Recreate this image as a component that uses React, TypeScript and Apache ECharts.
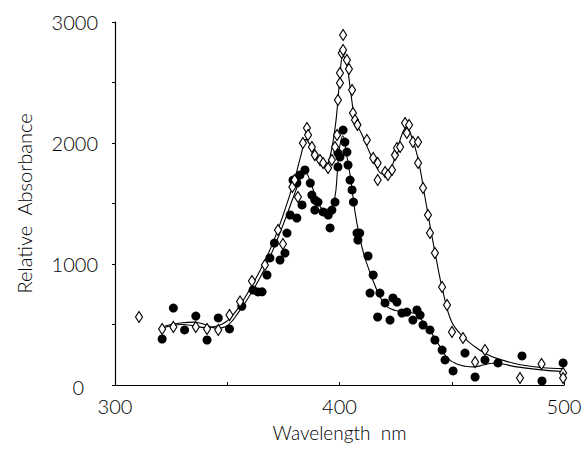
import React, { useEffect, useRef } from "react";
import * as echarts from "echarts";

const xTicks = [300, 350, 400, 450, 500];
const yTicks = [0, 500, 1000, 1500, 2000, 2500, 3000];

// open diamonds (measured points)
const diamondWl = [310.7, 321, 326, 336, 341, 346, 351, 355.7, 361, 366.8, 372.6, 374.8, 379, 380, 381.5, 383.7, 385.5, 386, 387.7, 389, 391.3, 392.7, 394.9, 396.6, 398, 398.9, 399.3, 400.2, 400.2, 401, 401.6, 401.6, 403.3, 404.2, 405.6, 406, 406.9, 408, 412.2, 415, 417, 417, 420.3, 421.6, 423.4, 424.7, 425.6, 427, 429.2, 431, 430, 432.7, 435, 435, 437.2, 439.4, 440.3, 442.5, 445.7, 447.9, 450.1, 455, 460.4, 464.8, 480.4, 490, 499.6, 499.6];
const diamondAbs = [562, 463, 480, 480, 463, 455, 578, 690, 860, 992, 1281, 1165, 1636, 1694, 1554, 2000, 2124, 2066, 1967, 1900, 1860, 1835, 1793, 1860, 1967, 2066, 2355, 2496, 2579, 2744, 2769, 2893, 2686, 2612, 2438, 2248, 2190, 2150, 2025, 1876, 1835, 1694, 1760, 1736, 1777, 1900, 1959, 1967, 2165, 2149, 2083, 2008, 2008, 1835, 1628, 1405, 1256, 1091, 810, 661, 438, 388, 190, 289, 58, 174, 99, 58];

// filled circles (measured points)
const circleWl = [321, 326, 331, 336, 341, 346, 351, 356.5, 361.5, 363.7, 365.5, 367.7, 369, 371, 373.5, 375.7, 376.6, 378, 379.3, 381, 381, 382.4, 383.3, 384.6, 387, 387.7, 389, 390.4, 389, 392.7, 395, 395.8, 396.6, 398, 399.3, 399.3, 400.2, 401.6, 402.4, 403.3, 403.8, 404.7, 405.6, 406.2, 407.8, 409, 408.2, 412.7, 415, 413.6, 418, 420.3, 423.8, 425.6, 417, 422.5, 427.8, 430, 432.7, 434.5, 435.9, 437.2, 440.3, 442.5, 445.7, 447, 450.6, 455.9, 460.4, 464.8, 470.6, 481.3, 490.2, 499.6];
const circleAbs = [380, 636, 455, 570, 372, 554, 463, 650, 785, 769, 770, 909, 1050, 1173, 1033, 1090, 1256, 1405, 1694, 1669, 1380, 1736, 1488, 1777, 1669, 1570, 1529, 1512, 1446, 1430, 1405, 1298, 1446, 1512, 1802, 1917, 1884, 2107, 2008, 1925, 1818, 1694, 1612, 1512, 1256, 1256, 1198, 1066, 909, 760, 760, 678, 719, 686, 562, 537, 595, 603, 537, 620, 578, 496, 455, 372, 289, 207, 116, 264, 66, 207, 182, 240, 33, 182];

// fitted curves drawn through each set
const diamondCurveWl = [321, 325, 330, 335, 340, 345, 350, 355, 360, 365, 370, 375, 380, 383, 385, 387, 390, 393, 395, 398, 400, 401.5, 403, 405, 407, 410, 413, 416, 419, 422, 425, 428, 430, 432, 435, 438, 440, 443, 446, 450, 455, 460, 465, 470, 480, 490, 500];
const diamondCurveAbs = [470, 490, 500, 490, 475, 485, 530, 640, 790, 960, 1160, 1410, 1700, 1910, 2030, 1980, 1870, 1800, 1830, 2120, 2500, 2720, 2680, 2420, 2190, 2070, 1940, 1820, 1745, 1760, 1900, 2080, 2130, 2060, 1870, 1560, 1350, 1050, 780, 520, 400, 320, 260, 220, 170, 145, 135];

const circleCurveWl = [321, 325, 330, 335, 340, 345, 350, 355, 360, 365, 370, 375, 380, 383, 385, 387, 390, 393, 396, 398, 399, 400, 401.5, 403, 405, 407, 409, 411, 413, 415, 418, 421, 425, 430, 434, 436, 440, 442, 445, 448, 452, 456, 460, 464, 468, 472, 479, 490, 500];
const circleCurveAbs = [480, 500, 515, 520, 500, 470, 490, 600, 740, 900, 1100, 1330, 1580, 1720, 1750, 1680, 1530, 1450, 1460, 1560, 1750, 1960, 2060, 1920, 1700, 1420, 1220, 1070, 960, 860, 730, 650, 615, 600, 590, 550, 460, 400, 310, 225, 175, 155, 150, 165, 180, 175, 150, 125, 110];

const zip = (a: number[], b: number[]) => a.map((v, i) => [v, b[i]]);

const FONT = "Lato, 'DejaVu Sans', sans-serif";
const INK = "#000";
const W = 300;

export default function App() {
  const ref = useRef<HTMLDivElement>(null);
  useEffect(() => {
    if (!ref.current) return;
    const chart = echarts.init(ref.current, null, { renderer: "svg" });
    chart.setOption({
      animation: false,
      backgroundColor: "#fff",
      grid: { left: 115, right: 22, top: 22, bottom: 66 },
      xAxis: {
        type: "value",
        min: xTicks[0],
        max: xTicks[xTicks.length - 1],
        interval: 50,
        name: "Wavelength  nm",
        nameLocation: "middle",
        nameGap: 38,
        nameTextStyle: { fontFamily: FONT, fontSize: 19, fontWeight: W, color: INK },
        axisLine: { lineStyle: { color: INK, width: 1.2 } },
        axisTick: { show: true, length: 3, inside: true, lineStyle: { color: INK } },
        axisLabel: {
          fontFamily: FONT,
          fontSize: 20,
          fontWeight: W,
          color: INK,
          margin: 11,
          formatter: (v: number) => (v % 100 === 0 ? String(v) : ""),
        },
        splitLine: { show: false },
      },
      yAxis: {
        type: "value",
        min: yTicks[0],
        max: yTicks[yTicks.length - 1],
        interval: 500,
        name: "Relative  Absorbance",
        nameLocation: "middle",
        nameGap: 81,
        nameTextStyle: { fontFamily: FONT, fontSize: 20, fontWeight: W, color: INK },
        axisLine: { show: true, lineStyle: { color: INK, width: 1.2 } },
        axisTick: { show: true, length: 3, lineStyle: { color: INK } },
        axisLabel: {
          fontFamily: FONT,
          fontSize: 20,
          fontWeight: W,
          color: INK,
          margin: 17,
          formatter: (v: number) => (v === 0 ? "{z|0}" : v % 1000 === 0 ? String(v) : ""),
          rich: { z: { fontFamily: FONT, fontSize: 20, fontWeight: W, color: INK, padding: [4, 14, 0, 0] } },
        },
        splitLine: { show: false },
      },
      series: [
        {
          type: "line",
          data: zip(diamondCurveWl, diamondCurveAbs),
          smooth: 0.4,
          showSymbol: false,
          lineStyle: { color: INK, width: 1.1 },
          z: 2,
        },
        {
          type: "line",
          data: zip(circleCurveWl, circleCurveAbs),
          smooth: 0.4,
          showSymbol: false,
          lineStyle: { color: INK, width: 1.1 },
          z: 2,
        },
        {
          type: "scatter",
          data: zip(circleWl, circleAbs),
          symbol: "circle",
          symbolSize: 9,
          itemStyle: { color: INK, opacity: 1 },
          z: 3,
        },
        {
          type: "scatter",
          data: zip(diamondWl, diamondAbs),
          symbol: "diamond",
          symbolSize: [7, 11],
          itemStyle: { color: "#fff", borderColor: INK, borderWidth: 1.2, opacity: 1 },
          z: 4,
        },
      ],
    });
    return () => chart.dispose();
  }, []);
  return <div ref={ref} style={{ width: 586, height: 451, position: "absolute", left: 0, top: 0 }} />;
}
